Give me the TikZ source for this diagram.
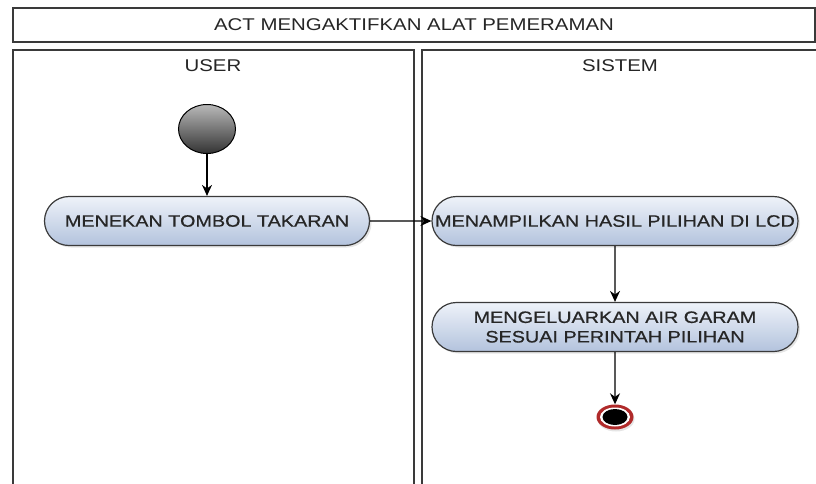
\documentclass[tikz,border=0pt]{standalone}
\usepackage[usenames,dvipsnames,svgnames,table]{xcolor}
\usepackage{fontspec}
\usepackage{tikz}
\usetikzlibrary{arrows.meta,shapes.misc,shapes.geometric,shadows}

\setmainfont{Liberation Sans}[FakeStretch=1.2]
\newfontfamily\actfont{Liberation Sans}[FakeStretch=1.2, FakeBold=0.7]

\definecolor{lineGray}{HTML}{3A3A3A}
\definecolor{actTop}{HTML}{EEF2F9}
\definecolor{actBottom}{HTML}{B3C3DD}
\definecolor{endRed}{HTML}{B02A2A}

\begin{document}
\begin{tikzpicture}[x=1pt,y=-1pt,
    lane/.style={draw=lineGray, line width=1.6pt},
    title/.style={font=\fontsize{17}{19}\selectfont, text=black!85},
    act/.style={rounded rectangle, draw=lineGray, line width=1.2pt,
        top color=actTop, bottom color=actBottom, minimum height=49pt,
        inner sep=2pt, align=center, text=black!85,
        font=\actfont\fontsize{16.5}{19.5}\selectfont,
        drop shadow={opacity=0.2, shadow xshift=2pt, shadow yshift=-2pt}},
    flow/.style={-{Stealth[length=11pt,width=10pt]}, line width=1.4pt, black}]

    \useasboundingbox (0,0) rectangle (816,483);
    \clip (0,0) rectangle (816,483);
    \fill[white] (0,0) rectangle (816,483);

    % title bar and the two swimlanes
    \node[title, draw=lineGray, line width=1.6pt, minimum width=802pt, minimum height=34pt]
        (head) at (414,25) {ACT MENGAKTIFKAN ALAT PEMERAMAN};
    \draw[lane] (13,500) -- (13,50) -- (414,50) -- (414,500);
    \draw[lane] (422,500) -- (422,50) -- (830,50);

    \node[title] (user) at (213,66) {USER};
    \node[title] (sistem) at (620,66) {SISTEM};

    % start and end
    \node[ellipse, draw=black, line width=1pt, top color=gray!55, bottom color=black!80,
        minimum width=57pt, minimum height=49pt, inner sep=0pt] (start) at (207,129) {};

    \node[ellipse, fill=endRed, minimum width=37pt, minimum height=25pt, inner sep=0pt,
        drop shadow={opacity=0.2, shadow xshift=1pt, shadow yshift=-2pt}] (stop) at (615,417) {};
    \node[ellipse, fill=white, minimum width=30pt, minimum height=19pt, inner sep=0pt] at (615,417) {};
    \node[ellipse, fill=black, minimum width=25pt, minimum height=16pt, inner sep=0pt] at (615,417) {};

    % activities
    \node[act, minimum width=329pt] (tekan) at (207,221) {MENEKAN TOMBOL TAKARAN};
    \node[act, minimum width=370pt] (tampil) at (615,221) {MENAMPILKAN HASIL PILIHAN DI LCD};
    \node[act, minimum width=370pt] (keluar) at (615,327) {MENGELUARKAN AIR GARAM\\SESUAI PERINTAH PILIHAN};

    \draw[flow] (start) -- (tekan);
    \draw[flow] (tekan) -- (tampil);
    \draw[flow] (tampil) -- (keluar);
    \draw[flow] (keluar) -- (stop);

\end{tikzpicture}
\end{document}
